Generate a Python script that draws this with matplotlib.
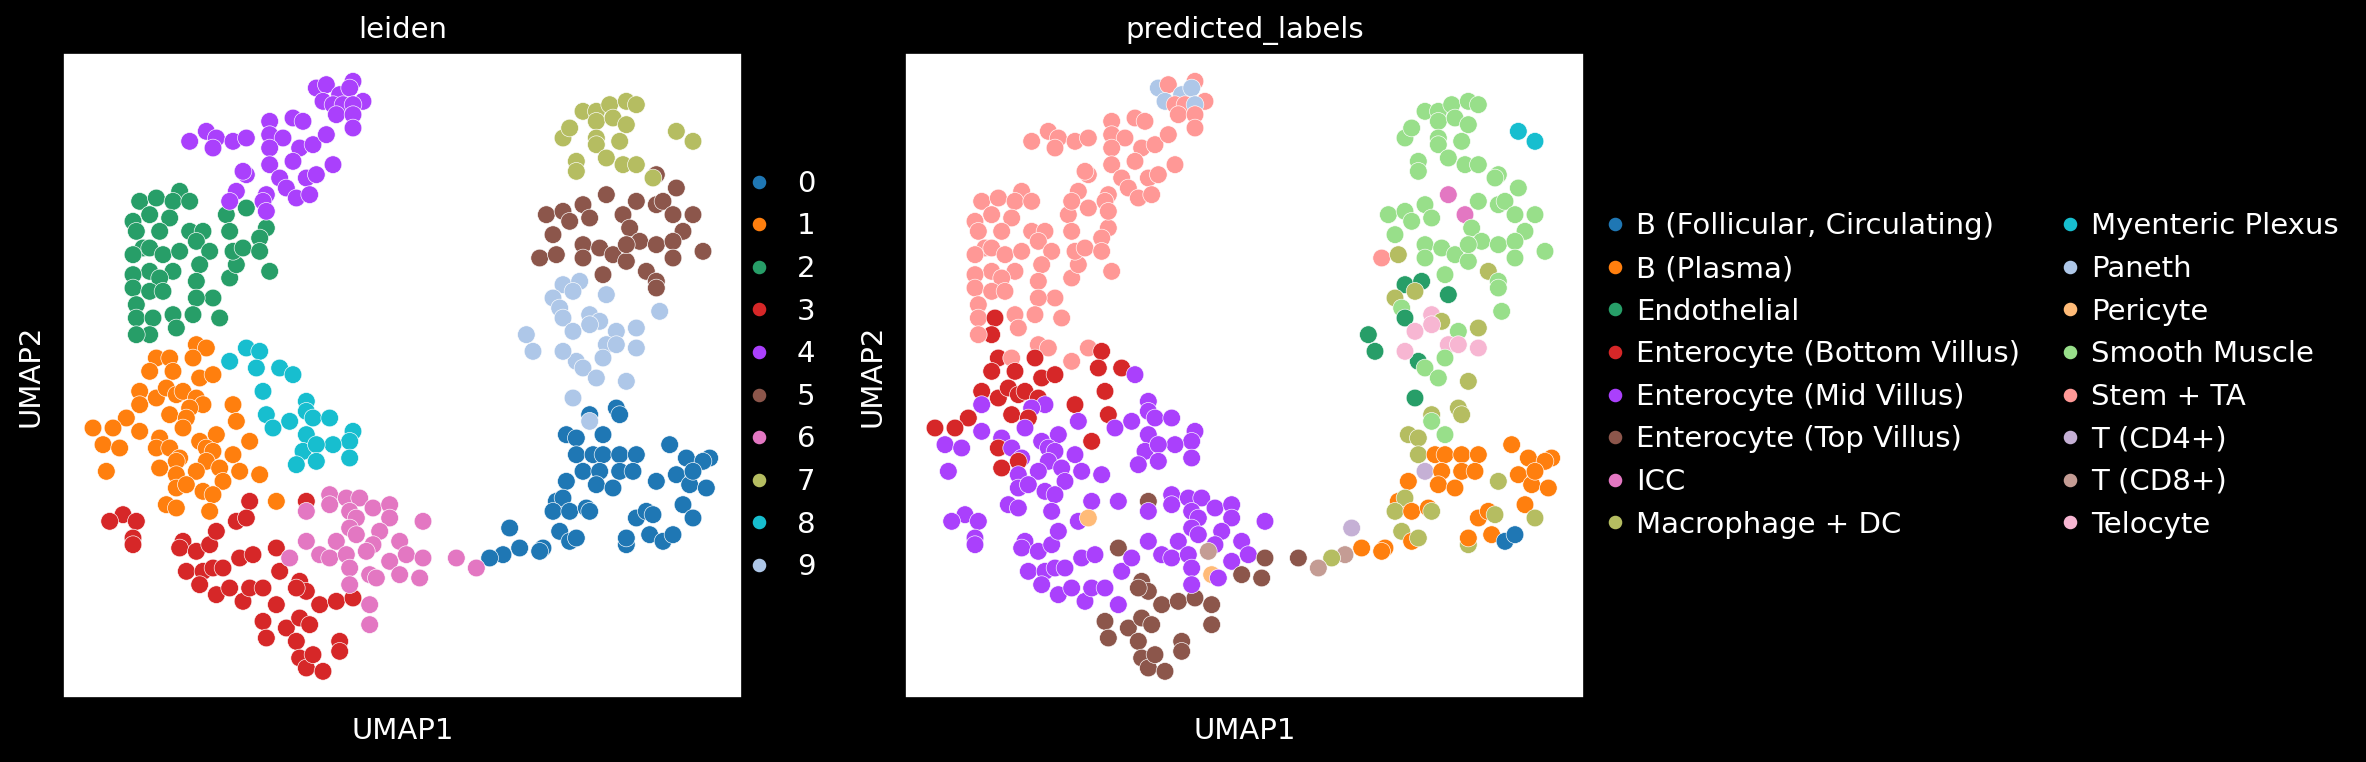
import matplotlib
matplotlib.use("Agg")
import matplotlib.pyplot as plt
from matplotlib.lines import Line2D
import numpy as np

# scanpy default palette
palette = ['#1f77b4', '#ff7f0e', '#279e68', '#d62728', '#aa40fc', '#8c564b',
           '#e377c2', '#b5bd61', '#17becf', '#aec7e8', '#ffbb78', '#98df8a',
           '#ff9896', '#c5b0d5', '#c49c94', '#f7b6d2']

leiden_categories = [str(i) for i in range(10)]
predicted_categories = ['B (Follicular, Circulating)', 'B (Plasma)', 'Endothelial',
                        'Enterocyte (Bottom Villus)', 'Enterocyte (Mid Villus)',
                        'Enterocyte (Top Villus)', 'ICC', 'Macrophage + DC',
                        'Myenteric Plexus', 'Paneth', 'Pericyte', 'Smooth Muscle',
                        'Stem + TA', 'T (CD4+)', 'T (CD8+)', 'Telocyte']

# (UMAP1, UMAP2, predicted label index) per leiden cluster
cluster_0 = [(16.6, 8.7, 7), (16.7, 8.5, 7), (15.8, 8.5, 7), (16.2, 7.9, 11), (15.1, 7.9, 7),
             (15.4, 7.8, 7), (15.4, 7.3, 7), (15.9, 7.3, 1), (16.2, 7.3, 1), (16.7, 7.3, 1),
             (17.2, 7.3, 1), (15.6, 6.8, 13), (16.1, 6.8, 1), (16.7, 6.8, 1), (17.1, 6.8, 1),
             (15.1, 6.5, 1), (16.0, 6.4, 1), (16.5, 6.3, 1), (17.8, 6.5, 7), (18.2, 7.6, 1),
             (18.7, 7.2, 1), (18.4, 6.7, 1), (18.8, 6.4, 1), (19.3, 6.3, 1), (19.4, 7.2, 1),
             (19.2, 7.1, 1), (18.9, 6.8, 1), (14.8, 5.9, 1), (15.0, 6.0, 7), (14.7, 5.6, 7),
             (15.2, 5.6, 1), (15.7, 5.7, 1), (15.8, 5.6, 7), (14.9, 5.0, 7), (15.2, 4.7, 1),
             (15.4, 4.8, 7), (17.2, 5.4, 1), (17.5, 5.6, 1), (17.7, 5.5, 7), (18.6, 5.8, 1),
             (18.9, 5.4, 7), (16.9, 4.6, 7), (16.9, 4.8, 1), (17.6, 4.9, 1), (18.0, 4.7, 0),
             (18.3, 4.9, 0), (14.4, 4.5, 1), (14.3, 4.4, 1), (13.7, 4.5, 1), (13.4, 5.1, 13),
             (13.2, 4.3, 14), (12.8, 4.2, 7)]

cluster_1 = [(4.0, 10.6, 12), (4.3, 10.5, 12), (3.9, 10.2, 3), (2.8, 10.2, 3), (3.2, 10.2, 12),
             (2.6, 9.8, 3), (3.3, 9.8, 3), (4.1, 9.6, 3), (4.5, 9.7, 3), (2.3, 9.2, 3),
             (2.3, 8.8, 4), (2.8, 9.0, 3), (3.1, 9.3, 3), (3.4, 9.1, 3), (3.6, 9.2, 3),
             (4.0, 9.0, 3), (4.2, 8.8, 4), (3.8, 8.7, 4), (5.1, 8.8, 3), (5.2, 8.3, 4),
             (3.2, 8.5, 3), (3.7, 8.4, 3), (3.6, 8.1, 4), (1.9, 8.4, 3), (0.9, 8.1, 3),
             (1.5, 8.1, 3), (2.3, 8.0, 4), (1.2, 7.6, 4), (1.7, 7.5, 4), (2.9, 7.8, 4),
             (2.8, 7.5, 3), (3.2, 7.5, 4), (3.5, 7.2, 4), (3.4, 7.1, 3), (4.1, 7.7, 4),
             (4.6, 7.9, 4), (4.3, 7.5, 4), (4.5, 7.4, 4), (5.1, 7.3, 4), (5.6, 7.7, 3),
             (4.3, 7.1, 4), (4.0, 6.8, 4), (4.7, 6.9, 4), (4.8, 6.5, 4), (5.3, 6.8, 4),
             (5.9, 6.7, 4), (2.9, 6.9, 3), (1.3, 6.8, 4), (3.4, 6.7, 4), (3.4, 6.3, 4),
             (3.7, 6.4, 4), (4.2, 6.2, 4), (4.5, 6.1, 4), (4.4, 5.6, 4), (3.1, 5.8, 4),
             (3.4, 5.7, 4), (6.4, 5.9, 4)]

cluster_2 = [(2.3, 14.9, 12), (2.8, 15.0, 12), (3.5, 15.2, 12), (3.3, 14.9, 12), (3.8, 14.9, 12),
             (2.6, 14.5, 12), (3.2, 14.4, 12), (2.1, 14.3, 12), (2.2, 14.0, 12), (2.9, 14.0, 12),
             (3.8, 14.0, 12), (4.2, 14.0, 12), (4.0, 13.7, 12), (2.4, 13.5, 12), (2.1, 13.3, 12),
             (2.6, 13.5, 12), (3.0, 13.3, 12), (3.5, 13.4, 12), (4.4, 13.4, 12), (4.1, 13.0, 12),
             (3.3, 12.8, 12), (2.6, 12.8, 12), (2.9, 12.6, 12), (2.1, 12.7, 12), (2.1, 12.3, 12),
             (2.6, 12.2, 12), (3.0, 12.2, 12), (4.0, 12.5, 12), (4.5, 12.0, 12), (4.0, 12.0, 12),
             (3.9, 11.5, 12), (2.2, 11.8, 12), (2.2, 11.4, 12), (2.7, 11.4, 3), (3.3, 11.5, 12),
             (3.4, 11.1, 12), (2.6, 10.9, 3), (2.2, 10.9, 12), (4.7, 11.4, 12), (5.0, 12.6, 12),
             (5.2, 13.0, 12), (5.1, 13.4, 12), (5.4, 13.5, 12), (4.9, 14.5, 12), (5.0, 14.0, 12),
             (5.5, 14.7, 12), (6.1, 14.1, 12), (5.9, 13.8, 12), (5.9, 13.4, 12), (6.2, 12.8, 12)]

cluster_3 = [(5.6, 5.9, 4), (7.3, 5.9, 5), (1.8, 5.5, 4), (1.4, 5.3, 4), (2.2, 5.3, 4),
             (2.1, 4.8, 4), (2.1, 4.6, 4), (5.2, 5.3, 4), (5.5, 5.4, 10), (3.6, 4.7, 4),
             (3.5, 4.5, 4), (4.0, 4.4, 4), (4.4, 4.6, 4), (4.6, 5.0, 4), (5.3, 4.2, 4),
             (5.7, 4.3, 4), (6.4, 4.5, 5), (3.7, 3.8, 4), (4.2, 3.8, 4), (4.5, 3.9, 4),
             (4.8, 3.9, 4), (4.1, 3.4, 4), (4.6, 3.1, 4), (5.0, 3.3, 4), (5.4, 2.9, 4),
             (5.6, 3.3, 4), (6.0, 3.3, 4), (6.5, 3.8, 4), (6.4, 2.8, 4), (7.1, 3.5, 5),
             (7.3, 3.2, 5), (7.0, 3.3, 5), (7.7, 2.8, 5), (8.2, 2.9, 5), (8.7, 3.0, 5),
             (6.0, 2.3, 5), (6.1, 1.8, 5), (6.7, 2.1, 5), (7.1, 2.4, 5), (7.4, 2.2, 5),
             (7.0, 1.7, 5), (7.1, 1.2, 5), (7.3, 0.9, 5), (7.5, 1.3, 5), (7.8, 0.8, 5),
             (8.3, 1.7, 5), (8.3, 1.4, 5)]

cluster_4 = [(7.6, 18.3, 9), (7.9, 18.4, 12), (8.3, 18.1, 9), (8.7, 18.5, 12), (8.6, 18.3, 9),
             (9.0, 17.9, 12), (7.8, 17.9, 9), (8.1, 17.8, 12), (8.4, 17.8, 12), (8.7, 17.8, 9),
             (8.2, 17.5, 12), (8.7, 17.5, 12), (8.7, 17.1, 12), (6.9, 17.4, 12), (7.2, 17.3, 12),
             (6.2, 17.3, 12), (6.2, 16.9, 12), (6.6, 16.8, 12), (6.2, 16.5, 12), (7.1, 16.5, 12),
             (7.5, 16.6, 12), (7.9, 16.9, 12), (6.9, 16.1, 12), (6.2, 16.0, 12), (8.1, 16.0, 12),
             (7.3, 15.6, 12), (7.6, 15.7, 12), (6.5, 15.6, 12), (6.7, 15.3, 12), (5.5, 15.7, 12),
             (5.4, 15.8, 12), (7.0, 15.0, 12), (7.4, 15.1, 12), (6.1, 15.1, 12), (6.0, 14.9, 12),
             (6.1, 14.6, 12), (5.2, 15.2, 12), (5.0, 14.9, 12), (3.8, 16.7, 12), (4.3, 17.0, 12),
             (4.6, 16.8, 12), (4.5, 16.5, 12), (5.1, 16.7, 12), (5.5, 16.8, 12)]

cluster_5 = [(17.8, 15.7, 11), (18.4, 15.3, 11), (16.3, 15.1, 6), (17.2, 14.9, 11), (17.8, 14.8, 11),
             (18.0, 14.9, 11), (18.9, 14.5, 11), (14.5, 14.5, 11), (15.0, 14.6, 11), (15.6, 14.8, 11),
             (15.8, 14.4, 11), (15.2, 14.3, 11), (14.7, 13.9, 11), (15.6, 13.6, 11), (14.3, 13.2, 12),
             (14.8, 13.3, 7), (15.6, 13.2, 11), (16.1, 13.5, 11), (16.5, 13.3, 11), (16.9, 13.1, 11),
             (16.8, 14.5, 6), (17.0, 14.1, 11), (17.3, 13.7, 11), (17.8, 13.6, 11), (16.9, 13.6, 11),
             (18.3, 14.5, 11), (18.6, 14.0, 11), (18.3, 13.7, 11), (18.3, 13.2, 11), (19.2, 13.4, 11),
             (16.2, 12.7, 11), (17.5, 12.8, 7), (17.8, 12.5, 11), (17.8, 12.3, 11)]

cluster_6 = [(7.3, 5.6, 4), (8.0, 6.1, 4), (8.0, 5.8, 4), (8.5, 6.0, 4), (8.9, 6.0, 4),
             (9.3, 5.7, 4), (9.8, 5.8, 4), (8.6, 5.6, 4), (8.8, 5.4, 4), (9.8, 5.4, 4),
             (8.6, 5.1, 4), (8.8, 4.9, 4), (9.5, 5.0, 4), (10.1, 4.7, 4), (7.3, 4.7, 4),
             (8.2, 4.7, 4), (6.8, 4.2, 4), (7.7, 4.3, 4), (8.0, 4.2, 4), (8.5, 4.3, 4),
             (9.3, 4.6, 4), (9.1, 4.4, 14), (8.6, 3.9, 4), (8.6, 3.4, 4), (9.2, 3.7, 10),
             (9.4, 3.6, 4), (9.8, 4.1, 4), (10.1, 3.7, 5), (9.2, 2.8, 5), (9.2, 2.2, 5),
             (10.8, 5.3, 4), (10.3, 4.3, 4), (10.8, 4.2, 5), (10.7, 3.6, 5), (11.8, 4.2, 5),
             (12.4, 3.9, 14)]

cluster_7 = [(15.0, 16.8, 11), (15.2, 17.1, 11), (15.6, 17.6, 11), (16.0, 17.6, 11), (16.4, 17.8, 11),
             (16.9, 17.9, 11), (17.2, 17.8, 11), (16.0, 17.3, 11), (16.5, 17.4, 11), (16.9, 17.2, 11),
             (16.0, 16.8, 11), (16.7, 16.7, 11), (16.0, 16.6, 11), (16.3, 16.2, 11), (15.4, 16.1, 11),
             (15.4, 15.8, 11), (16.8, 16.0, 11), (17.2, 16.0, 11), (18.4, 17.0, 8), (18.9, 16.7, 8),
             (17.7, 15.6, 11)]

cluster_8 = [(5.0, 10.1, 12), (5.5, 10.5, 12), (5.9, 10.4, 3), (5.8, 9.9, 3), (6.5, 9.9, 3),
             (6.9, 9.7, 4), (6.0, 9.2, 3), (7.3, 8.9, 4), (6.1, 8.5, 3), (6.3, 8.1, 4),
             (6.8, 8.3, 4), (7.3, 8.6, 4), (7.5, 8.4, 4), (8.0, 8.4, 4), (8.7, 8.0, 4),
             (8.6, 7.7, 4), (8.1, 7.6, 4), (7.3, 7.9, 4), (7.2, 7.4, 4), (7.6, 7.6, 4),
             (7.6, 7.1, 4), (7.0, 7.0, 4), (8.6, 7.2, 4)]

cluster_9 = [(15.0, 12.4, 2), (15.5, 12.5, 2), (15.3, 12.2, 7), (14.7, 12.0, 7), (14.9, 11.7, 11),
             (15.0, 11.4, 2), (16.3, 12.1, 2), (15.8, 11.5, 15), (16.1, 11.3, 7), (15.8, 11.2, 15),
             (15.3, 11.0, 15), (16.6, 11.0, 11), (17.2, 11.1, 7), (17.9, 11.6, 11), (13.9, 10.9, 2),
             (14.1, 10.4, 2), (15.4, 10.1, 2), (15.0, 10.4, 15), (16.3, 10.6, 15), (16.6, 10.6, 15),
             (16.2, 10.2, 11), (17.2, 10.5, 15), (15.6, 9.9, 11), (16.0, 9.6, 11), (16.9, 9.5, 7),
             (15.3, 9.0, 2), (15.8, 8.3, 11)]

clusters = [cluster_0, cluster_1, cluster_2, cluster_3, cluster_4,
            cluster_5, cluster_6, cluster_7, cluster_8, cluster_9]

umap1, umap2, leiden, predicted = [], [], [], []
for k, pts in enumerate(clusters):
    for x, y, p in pts:
        umap1.append(x)
        umap2.append(y)
        leiden.append(k)
        predicted.append(p)
umap1 = np.array(umap1)
umap2 = np.array(umap2)
leiden = np.array(leiden)
predicted = np.array(predicted)

plt.rcParams['font.family'] = ['DejaVu Sans']

W, H = 2366, 762
fig = plt.figure(figsize=(W / 150, H / 150), dpi=150, facecolor='black')

ax_l = fig.add_axes([63 / W, 1 - 698 / H, 679 / W, 645 / H])
ax_r = fig.add_axes([905 / W, 1 - 698 / H, 679 / W, 645 / H])


def draw_panel(ax, codes, cats, title, legend_x, ncol, textpad):
    cols = [palette[c] for c in codes]
    ax.scatter(umap1, umap2, c=cols, s=72, edgecolors='white', linewidths=0.3)
    ax.set_facecolor('white')
    ax.set_xlim(0, 20.37)
    ax.set_ylim(0, 19.35)
    ax.set_xticks([])
    ax.set_yticks([])
    for sp in ax.spines.values():
        sp.set_color('black')
    ax.set_title(title, color='white', fontsize=14, pad=7)
    ax.set_xlabel('UMAP1', color='white', fontsize=14, labelpad=9)
    ax.set_ylabel('UMAP2', color='white', fontsize=14, labelpad=9)
    handles = [Line2D([], [], marker='o', linestyle='', color=palette[i],
                      markersize=5.5, label=lab) for i, lab in enumerate(cats)]
    leg = ax.legend(handles=handles, loc='center left', bbox_to_anchor=(legend_x, 0.5),
                    frameon=False, fontsize=14, ncol=ncol, borderpad=0, borderaxespad=0,
                    handlelength=1.0, handletextpad=textpad, labelspacing=0.5,
                    columnspacing=1.2)
    for t in leg.get_texts():
        t.set_color('white')


draw_panel(ax_l, leiden, leiden_categories, 'leiden', 1.0037, 1, 0.8)
draw_panel(ax_r, predicted, predicted_categories, 'predicted_labels', 1.0243, 2, 0.22)

fig.savefig('out.png', dpi=150, facecolor='black')
